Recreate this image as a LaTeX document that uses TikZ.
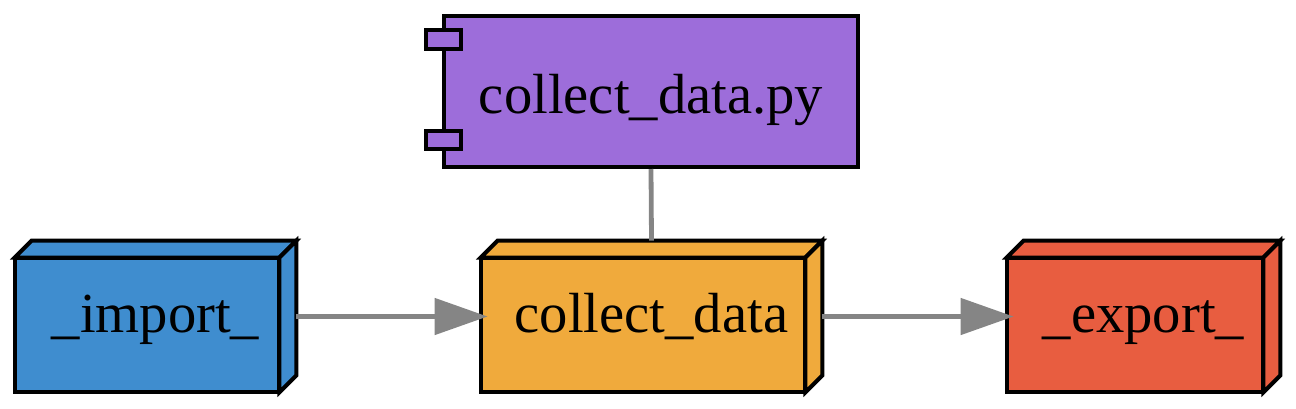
\documentclass[tikz,border=0pt]{standalone}
\usepackage{fontspec}
\setmainfont{Liberation Serif}
\usetikzlibrary{calc,arrows.meta,backgrounds}
\definecolor{cpurple}{HTML}{9D6DDA}
\definecolor{cblue}{HTML}{3F8DCF}
\definecolor{corange}{HTML}{F0AA3C}
\definecolor{cred}{HTML}{E85D40}
\definecolor{cedge}{HTML}{858585}
\tikzset{
  boxlabel/.style={inner sep=0pt, font=\fontsize{28.3pt}{34pt}\selectfont,
    text height=20pt, text depth=4.5pt, minimum height=75.5pt},
  complabel/.style={inner sep=0pt, font=\fontsize{28.3pt}{34pt}\selectfont,
    text height=26pt, text depth=4pt, minimum height=75.5pt,
    minimum width=207pt, draw=black, line width=2pt, fill=cpurple},
  face/.style={draw=black, line width=2pt},
  port/.style={draw=black, line width=2pt, fill=cpurple},
  edge/.style={draw=cedge, line width=2.4pt},
  arrowedge/.style={edge, -{Triangle[length=26.5pt,width=18pt]}, shorten >=-3.5pt},
}
\newcommand{\boxthreed}[2]{%
  \path[face, fill=#2] (#1.south west) rectangle ($(#1.north east)+(-17,17)$);
  \path[face, fill=#2] ($(#1.north west)+(0,17)$) -- ($(#1.north west)+(17,0)$)
     -- (#1.north east) -- ($(#1.north east)+(-17,17)$) -- cycle;
  \path[face, fill=#2] ($(#1.north east)+(-17,17)$) -- (#1.north east)
     -- ($(#1.south east)+(0,-17)$) -- ($(#1.south east)+(-17,0)$) -- cycle;
}
\begin{document}
\begin{tikzpicture}[x=0.5pt,y=-0.5pt]
\useasboundingbox (0,0) rectangle (1296,408);
% nodes
\node[complabel] (comp) at (651,91.5) {collect\_data.py};
\node[boxlabel, minimum width=140.5pt] (imp) at (155.5,316.5) {\_import\_};
\node[boxlabel, minimum width=170.5pt] (col) at (651.5,316.5) {collect\_data};
\node[boxlabel, minimum width=136.5pt] (exp) at (1143.5,316.5) {\_export\_};
% component ports
\path[port] ($(comp.north west)+(-16,16)$) rectangle ($(comp.north west)+(19,35)$);
\path[port] ($(comp.north west)+(-16,117)$) rectangle ($(comp.north west)+(19,135)$);
% box3d faces
\begin{pgfonlayer}{background}
\boxthreed{imp}{cblue}
\boxthreed{col}{corange}
\boxthreed{exp}{cred}
\end{pgfonlayer}
% connectors
\draw[edge] (comp.south) -- (col.north);
\draw[arrowedge] (imp.east) -- (col.west);
\draw[arrowedge] (col.east) -- (exp.west);
\end{tikzpicture}
\end{document}
